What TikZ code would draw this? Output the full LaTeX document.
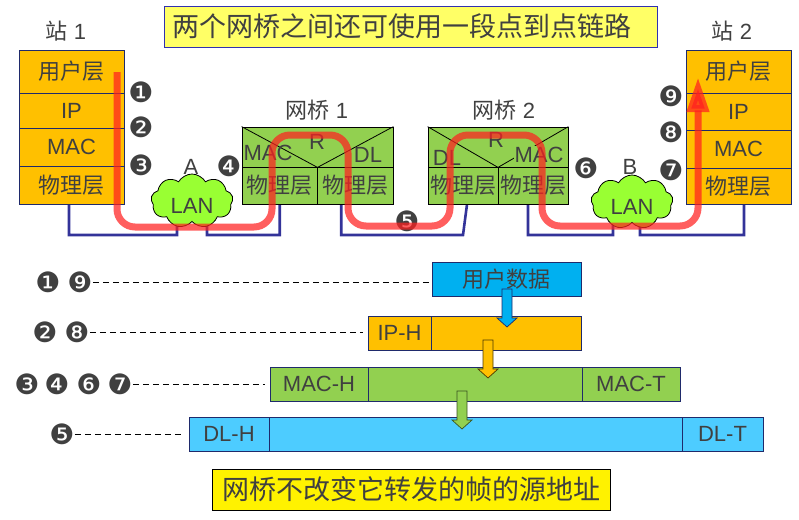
\documentclass[tikz,border=0pt]{standalone}
\usepackage{fontspec}
\setmainfont{Liberation Sans}
\newfontfamily\cjk{Noto Sans CJK SC}
\newfontfamily\dingf{DejaVu Sans}
\usetikzlibrary{shapes.symbols,arrows.meta}

\definecolor{txt}{HTML}{404040}
\definecolor{stOrange}{HTML}{FFC000}
\definecolor{brGreen}{HTML}{92D050}
\definecolor{lanGreen}{HTML}{99FF33}
\definecolor{dataBlue}{HTML}{00B0F0}
\definecolor{dlCyan}{HTML}{4DCCFF}
\definecolor{navy}{HTML}{1F2A6B}
\definecolor{wireBlue}{HTML}{333399}
\definecolor{titleYellow}{HTML}{FFFF66}
\definecolor{titleBorder}{HTML}{3030B0}
\definecolor{routeRed}{HTML}{FF2020}

\newcommand\cn[1]{{\cjk #1}}
\newcommand\fs[1]{\fontsize{#1}{#1}\selectfont}

\pgfdeclarelayer{back}
\pgfsetlayers{back,main}

\tikzset{
  stlayer/.style={rectangle, draw=navy, fill=stOrange, line width=0.8pt,
    minimum width=105, inner sep=0pt},
  brbox/.style={rectangle, draw=black, fill=brGreen, line width=0.8pt, inner sep=0pt},
  pkt/.style={rectangle, draw=navy, line width=0.9pt, minimum height=34, inner sep=0pt},
  lan/.style={cloud, cloud puffs=9, cloud puff arc=120, draw=black, fill=lanGreen,
    line width=0.8pt, minimum width=82, minimum height=54, inner sep=0pt},
  wire/.style={draw=wireBlue, line width=2.6pt},
  route/.style={draw=routeRed, opacity=0.72, line width=7pt, rounded corners=18pt,
    -{Triangle[width=21pt,length=35pt]}},
  num/.style={font=\dingf\fs{28}, text=txt, inner sep=0pt},
  dashline/.style={draw=black, line width=0.6pt, dash pattern=on 6pt off 4pt},
  blkarrow/.pic={\draw[pic actions] (-5,0) -- (-5,29) -- (-10,29) -- (0,38)
      -- (10,29) -- (5,29) -- (5,0) -- cycle;}
}

\begin{document}
\begin{tikzpicture}[x=1pt, y=-1pt, font=\fs{22}, text=txt]
\useasboundingbox (0,0) rectangle (799,519);

% heading
\node[rectangle, draw=titleBorder, fill=titleYellow, line width=0.9pt,
  minimum width=493, minimum height=41, inner sep=0pt, font=\cjk\fs{27}]
  (title) at (411,26.5) {两个网桥之间还可使用一段点到点链路\hspace*{18pt}};

% station 1
\node (st1) at (66,31) {\cn{站} 1};
\node[stlayer, minimum height=43] (s1u) at (71.5,71.5) {\cn{用户层}};
\node[stlayer, minimum height=35] (s1i) at (71.5,110.5) {IP};
\node[stlayer, minimum height=38] (s1m) at (71.5,147) {MAC};
\node[stlayer, minimum height=38] (s1p) at (71.5,185) {\cn{物理层}};

% station 2
\node (st2) at (732,31) {\cn{站} 2};
\node[stlayer, minimum height=43] (s2u) at (738.5,71.5) {\cn{用户层}};
\node[stlayer, minimum height=37] (s2i) at (738.5,111.5) {IP};
\node[stlayer, minimum height=38] (s2m) at (738.5,149) {MAC};
\node[stlayer, minimum height=36] (s2p) at (738.5,186) {\cn{物理层}};

% bridge 1
\node (br1) at (317,110) {\cn{网桥} 1};
\node[brbox, minimum width=151, minimum height=40] (b1t) at (317.5,147) {};
\node[brbox, minimum width=75.5, minimum height=37] (b1pl) at (279.75,185.5) {\cn{物理层}};
\node[brbox, minimum width=75.5, minimum height=37] (b1pr) at (355.25,185.5) {\cn{物理层}};
\draw[line width=0.8pt] (b1t.north west) -- (b1t.south) -- (b1t.north east);
\node (b1mac) at (268,153) {MAC};
\node (b1r) at (317,142) {R};
\node (b1dl) at (368,155) {DL};

% bridge 2
\node (br2) at (504,110) {\cn{网桥} 2};
\node[brbox, minimum width=140, minimum height=40] (b2t) at (498,147) {};
\node[brbox, minimum width=70, minimum height=37] (b2pl) at (463,185.5) {\cn{物理层}};
\node[brbox, minimum width=70, minimum height=37] (b2pr) at (533,185.5) {\cn{物理层}};
\draw[line width=0.8pt] (b2t.north west) -- (b2t.south) -- (b2t.north east);
\node (b2dl) at (447,158) {DL};
\node (b2r) at (496,140) {R};
\node[fill=brGreen, inner sep=1pt] (b2mac) at (539,155) {MAC};

% LAN segments: cloud outline, then its label
\node[lan] (lanA) at (192,201) {};
\node (lanAtxt) at (192,206) {LAN};
\node (labA) at (191,167) {A};
\node[lan] (lanB) at (632,202) {};
\node (lanBtxt) at (632,207) {LAN};
\node (labB) at (630,167) {B};

% cabling, kept behind the boxes and clouds
\coordinate (bus) at (0,235);
\begin{pgfonlayer}{back}
  \draw[wire] ([xshift=-2.5pt]s1p.south) |- ([xshift=-15pt]lanA.south |- bus)
    -- ([xshift=-15pt]lanA.center);
  \draw[wire] ([xshift=15pt]lanA.center) -- ([xshift=15pt]lanA.south |- bus)
    -| (b1pl.south);
  \draw[wire] ([xshift=-14pt]b1pr.south) |- (bus -| b2pl.south) -- ([xshift=4pt]b2pl.south);
  \draw[wire] ([xshift=-5pt]b2pr.south) |- ([xshift=-19pt]lanB.south |- bus)
    -- ([xshift=-19pt]lanB.center);
  \draw[wire] ([xshift=8pt]lanB.center) -- ([xshift=8pt]lanB.south |- bus)
    -| ([xshift=5.5pt]s2p.south);
\end{pgfonlayer}

% step markers along the route
\node[num] (m1) at (141,92) {❶};
\node[num] (m2) at (141,127) {❷};
\node[num] (m3) at (141,165) {❸};
\node[num] (m4) at (229,166) {❹};
\node[num] (m5) at (407,221) {❺};
\node[num] (m6) at (586,168) {❻};
\node[num] (m7) at (671,170) {❼};
\node[num] (m8) at (671,132) {❽};
\node[num] (m9) at (671,96) {❾};

% path of the frame from station 1 to station 2
\coordinate (r0) at (117,72);
\coordinate (r9) at (698,77);
\draw[route] (r0) -- (117,227) -- (272,227) -- (272,135) -- (348,135)
  -- (348,226) -- (450,226) -- (450,135) -- (542,135) -- (542,226)
  -- (698,226) -- (r9);

% frame formats
\node[pkt, fill=dataBlue, minimum width=149] (pdata) at (506.5,279) {\cn{用户数据}};

\node[pkt, fill=stOrange, minimum width=63] (iph) at (399.5,333) {IP-H};
\node[pkt, fill=stOrange, minimum width=150] (ipd) at (506,333) {};

\node[pkt, fill=brGreen, minimum width=98] (mach) at (319,384) {MAC-H};
\node[pkt, fill=brGreen, minimum width=214] (macd) at (475,384) {};
\node[pkt, fill=brGreen, minimum width=98] (mact) at (631,384) {MAC-T};

\node[pkt, fill=dlCyan, minimum width=80] (dlh) at (229,434) {DL-H};
\node[pkt, fill=dlCyan, minimum width=413] (dld) at (475.5,434) {};
\node[pkt, fill=dlCyan, minimum width=81] (dlt) at (722.5,434) {DL-T};

% encapsulation arrows
\pic[fill=dataBlue, draw=navy, line width=0.7pt] at (507,289) {blkarrow};
\pic[fill=stOrange, draw=black!70!stOrange, line width=0.7pt] at (488,340) {blkarrow};
\pic[fill=brGreen, draw=black!60!brGreen, line width=0.7pt] at (462,391) {blkarrow};

% step markers for each format
\node[num] (k1) at (48,282) {❶};
\node[num] (k9) at (80,282) {❾};
\node[num] (k2) at (45,332) {❷};
\node[num] (k8) at (77,332) {❽};
\node[num] (k3) at (27,384) {❸};
\node[num] (k4) at (57,384) {❹};
\node[num] (k6) at (89,384) {❻};
\node[num] (k7) at (120,384) {❼};
\node[num] (k5) at (62,434) {❺};

\draw[dashline] (k9.east) -- (k9.east -| pdata.west);
\draw[dashline, shorten >=5pt] (k8.east) -- (k8.east -| iph.west);
\draw[dashline, shorten >=5pt] (k7.east) -- (k7.east -| mach.west);
\draw[dashline, shorten >=4pt] (k5.east) -- (k5.east -| dlh.west);

% closing remark
\node[rectangle, draw=black, fill=yellow, line width=0.9pt,
  minimum width=398, minimum height=41, inner sep=0pt, font=\cjk\fs{27}]
  (note) at (411,489.5) {网桥不改变它转发的帧的源地址};
\end{tikzpicture}
\end{document}
